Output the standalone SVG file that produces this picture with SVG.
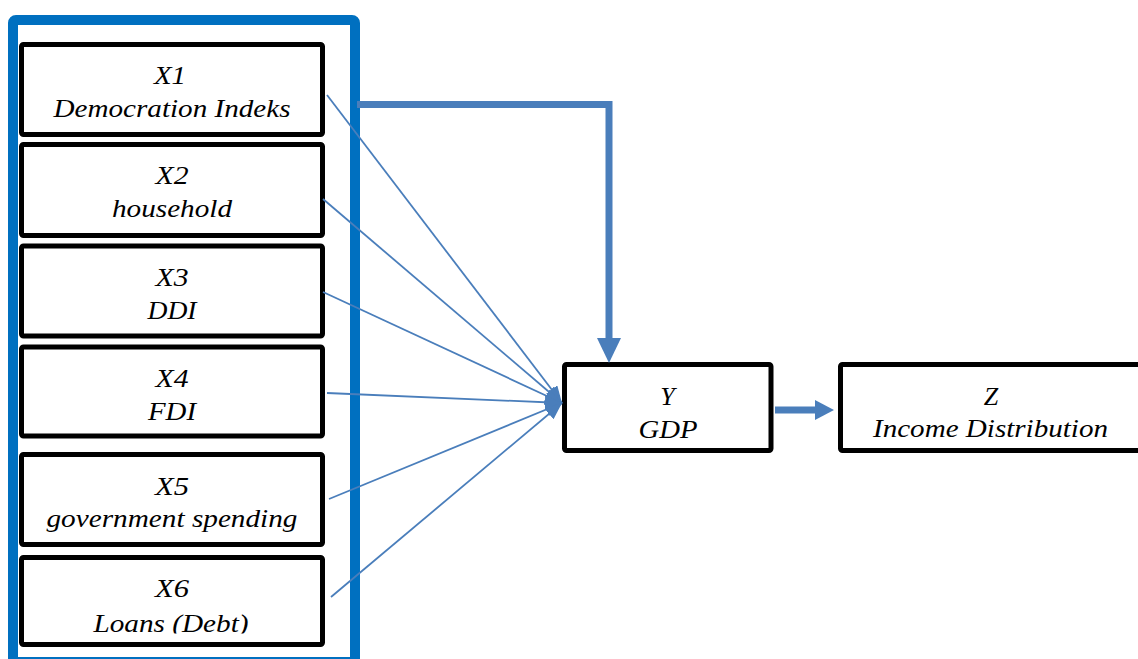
<svg xmlns="http://www.w3.org/2000/svg" width="1138" height="659" viewBox="0 0 1138 659">
<style>
.box{fill:#fff;stroke:#000;stroke-width:5;}
.t{font-family:"Liberation Serif","Times New Roman",serif;font-style:italic;font-size:26px;fill:#000;text-anchor:middle;}
.thin{stroke:#4a7ebb;stroke-width:1.8;fill:none;marker-end:url(#ah);}
.thick{stroke:#4a7ebb;stroke-width:7;fill:none;}
.head{fill:#4a7ebb;}
</style>
<defs>
<marker id="ah" markerUnits="userSpaceOnUse" markerWidth="18" markerHeight="14" refX="17" refY="7" orient="auto">
<path d="M0,0 L17,7 L0,14 z" fill="#4a7ebb"/>
</marker>
<clipPath id="clip6"><rect x="0" y="0" width="1138" height="633.5"/></clipPath>
</defs>
<rect width="1138" height="659" fill="#fff"/>
<rect id="frame" x="13" y="20" width="342" height="642" rx="3" fill="none" stroke="#0070c0" stroke-width="10"/>
<g id="x1"><rect class="box" x="21.5" y="44.5" width="301" height="90" rx="2"/><text class="t" x="170" y="84" textLength="32" lengthAdjust="spacingAndGlyphs">X1</text><text class="t" x="172" y="117" textLength="237" lengthAdjust="spacingAndGlyphs">Democration Indeks</text></g>
<g id="x2"><rect class="box" x="21.5" y="144.5" width="301" height="91" rx="2"/><text class="t" x="172" y="184" textLength="33" lengthAdjust="spacingAndGlyphs">X2</text><text class="t" x="172" y="217" textLength="120" lengthAdjust="spacingAndGlyphs">household</text></g>
<g id="x3"><rect class="box" x="21.5" y="246" width="301" height="90" rx="2"/><text class="t" x="172" y="286" textLength="33" lengthAdjust="spacingAndGlyphs">X3</text><text class="t" x="172" y="319" textLength="49" lengthAdjust="spacingAndGlyphs">DDI</text></g>
<g id="x4"><rect class="box" x="21.5" y="347" width="301" height="89" rx="2"/><text class="t" x="172" y="387" textLength="33" lengthAdjust="spacingAndGlyphs">X4</text><text class="t" x="172" y="420" textLength="48" lengthAdjust="spacingAndGlyphs">FDI</text></g>
<g id="x5"><rect class="box" x="21.5" y="454.5" width="301" height="90" rx="2"/><text class="t" x="172" y="495" textLength="34" lengthAdjust="spacingAndGlyphs">X5</text><text class="t" x="172" y="527" textLength="251" lengthAdjust="spacingAndGlyphs">government spending</text></g>
<g id="x6"><rect class="box" x="21.5" y="557.5" width="301" height="87" rx="2"/><text class="t" x="172" y="597" textLength="34" lengthAdjust="spacingAndGlyphs">X6</text><text class="t" x="171" y="632" clip-path="url(#clip6)" textLength="155" lengthAdjust="spacingAndGlyphs">Loans (Debt)</text></g>
<g id="y"><rect class="box" x="564.5" y="364.5" width="206.5" height="86" rx="2"/><text class="t" x="667.5" y="405">Y</text><text class="t" x="668" y="438" textLength="59" lengthAdjust="spacingAndGlyphs">GDP</text></g>
<g id="z"><rect class="box" x="840.5" y="364.5" width="301" height="86" rx="2"/><text class="t" x="991" y="405">Z</text><text class="t" x="990.5" y="437" textLength="235" lengthAdjust="spacingAndGlyphs">Income Distribution</text></g>
<g id="connectors">
<line class="thin" x1="327" y1="95" x2="562" y2="403"/>
<line class="thin" x1="323" y1="199" x2="562" y2="403"/>
<line class="thin" x1="323" y1="292" x2="562" y2="403"/>
<line class="thin" x1="327" y1="393" x2="562" y2="403"/>
<line class="thin" x1="329" y1="499" x2="562" y2="403"/>
<line class="thin" x1="331" y1="597" x2="562" y2="403"/>
<path class="thick" d="M357,104.5 H609 V339"/>
<polygon class="head" points="597,338 621,338 609,363"/>
<line class="thick" x1="775" y1="410" x2="816" y2="410" stroke-width="6"/>
<polygon class="head" points="815,400 834,410 815,420"/>
</g>
</svg>
